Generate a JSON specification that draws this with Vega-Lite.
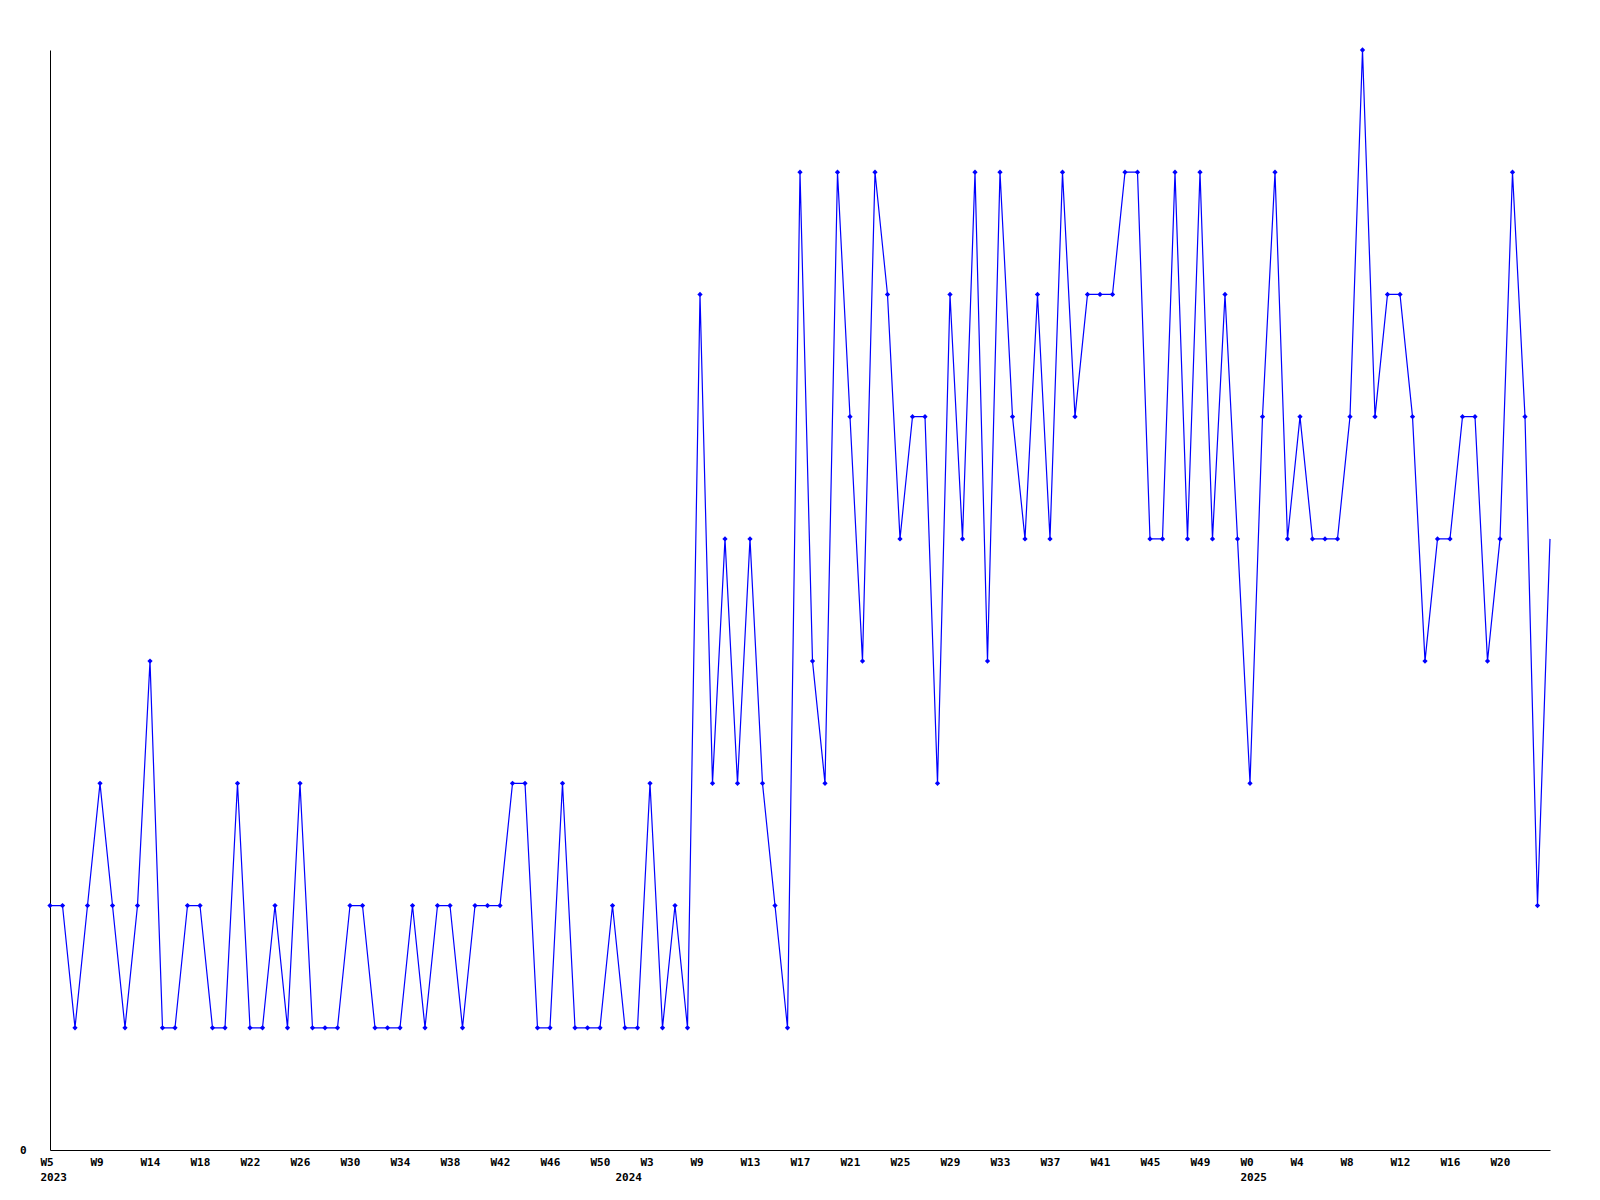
{
  "$schema": "https://vega.github.io/schema/vega-lite/v6.json",
  "width": 1500,
  "height": 1100,
  "autosize": "none",
  "padding": {"left": 50, "top": 50, "right": 50, "bottom": 50},
  "background": "white",
  "config": {"view": {"stroke": null}},
  "data": {"values": [
    {"i":0,"value":2},{"i":1,"value":2},{"i":2,"value":1},{"i":3,"value":2},{"i":4,"value":3},{"i":5,"value":2},{"i":6,"value":1},{"i":7,"value":2},{"i":8,"value":4},{"i":9,"value":1},
    {"i":10,"value":1},{"i":11,"value":2},{"i":12,"value":2},{"i":13,"value":1},{"i":14,"value":1},{"i":15,"value":3},{"i":16,"value":1},{"i":17,"value":1},{"i":18,"value":2},{"i":19,"value":1},
    {"i":20,"value":3},{"i":21,"value":1},{"i":22,"value":1},{"i":23,"value":1},{"i":24,"value":2},{"i":25,"value":2},{"i":26,"value":1},{"i":27,"value":1},{"i":28,"value":1},{"i":29,"value":2},
    {"i":30,"value":1},{"i":31,"value":2},{"i":32,"value":2},{"i":33,"value":1},{"i":34,"value":2},{"i":35,"value":2},{"i":36,"value":2},{"i":37,"value":3},{"i":38,"value":3},{"i":39,"value":1},
    {"i":40,"value":1},{"i":41,"value":3},{"i":42,"value":1},{"i":43,"value":1},{"i":44,"value":1},{"i":45,"value":2},{"i":46,"value":1},{"i":47,"value":1},{"i":48,"value":3},{"i":49,"value":1},
    {"i":50,"value":2},{"i":51,"value":1},{"i":52,"value":7},{"i":53,"value":3},{"i":54,"value":5},{"i":55,"value":3},{"i":56,"value":5},{"i":57,"value":3},{"i":58,"value":2},{"i":59,"value":1},
    {"i":60,"value":8},{"i":61,"value":4},{"i":62,"value":3},{"i":63,"value":8},{"i":64,"value":6},{"i":65,"value":4},{"i":66,"value":8},{"i":67,"value":7},{"i":68,"value":5},{"i":69,"value":6},
    {"i":70,"value":6},{"i":71,"value":3},{"i":72,"value":7},{"i":73,"value":5},{"i":74,"value":8},{"i":75,"value":4},{"i":76,"value":8},{"i":77,"value":6},{"i":78,"value":5},{"i":79,"value":7},
    {"i":80,"value":5},{"i":81,"value":8},{"i":82,"value":6},{"i":83,"value":7},{"i":84,"value":7},{"i":85,"value":7},{"i":86,"value":8},{"i":87,"value":8},{"i":88,"value":5},{"i":89,"value":5},
    {"i":90,"value":8},{"i":91,"value":5},{"i":92,"value":8},{"i":93,"value":5},{"i":94,"value":7},{"i":95,"value":5},{"i":96,"value":3},{"i":97,"value":6},{"i":98,"value":8},{"i":99,"value":5},
    {"i":100,"value":6},{"i":101,"value":5},{"i":102,"value":5},{"i":103,"value":5},{"i":104,"value":6},{"i":105,"value":9},{"i":106,"value":6},{"i":107,"value":7},{"i":108,"value":7},{"i":109,"value":6},
    {"i":110,"value":4},{"i":111,"value":5},{"i":112,"value":5},{"i":113,"value":6},{"i":114,"value":6},{"i":115,"value":4},{"i":116,"value":5},{"i":117,"value":8},{"i":118,"value":6},{"i":119,"value":2},
    {"i":120,"value":5}
  ]},
  "encoding": {
    "x": {
      "field": "i", "type": "quantitative",
      "scale": {"domain": [0, 120], "nice": false, "zero": false},
      "axis": {
        "title": null, "grid": false, "ticks": false,
        "domainColor": "black", "domainWidth": 1,
        "values": [0,4,8,12,16,20,24,28,32,36,40,44,46,48,52,56,60,64,68,72,76,80,84,88,92,96,100,104,108,112,116],
        "labelExpr": "datum.value == 46 ? [' ', '2024'] : datum.value == 0 ? ['W5', '2023'] : datum.value == 96 ? ['W0', '2025'] : ['W5','W9','W14','W18','W22','W26','W30','W34','W38','W42','W46','W50','W3','W9','W13','W17','W21','W25','W29','W33','W37','W41','W45','W49','W0','W4','W8','W12','W16','W20'][datum.value / 4]",
        "labelAlign": "left", "labelOffset": -10, "labelBaseline": "top", "labelPadding": 6,
        "labelFont": "DejaVu Sans Mono", "labelFontWeight": "bold", "labelFontSize": 11,
        "labelLineHeight": 15, "labelColor": "black",
        "labelOverlap": false, "labelFlush": false, "labelBound": false
      }
    },
    "y": {
      "field": "value", "type": "quantitative",
      "scale": {"domain": [0, 9], "nice": false, "zero": true},
      "axis": {
        "title": null, "grid": false, "ticks": false,
        "domainColor": "black", "domainWidth": 1,
        "values": [0], "labelPadding": 24,
        "labelFont": "DejaVu Sans Mono", "labelFontWeight": "bold", "labelFontSize": 11,
        "labelColor": "black"
      }
    }
  },
  "layer": [
    {"mark": {"type": "line", "color": "#0000ff", "strokeWidth": 1.2}},
    {"transform": [{"filter": "datum.i < 120"}],
     "mark": {"type": "point", "shape": "diamond", "filled": true, "color": "#0000ff", "size": 28, "opacity": 1}}
  ]
}
